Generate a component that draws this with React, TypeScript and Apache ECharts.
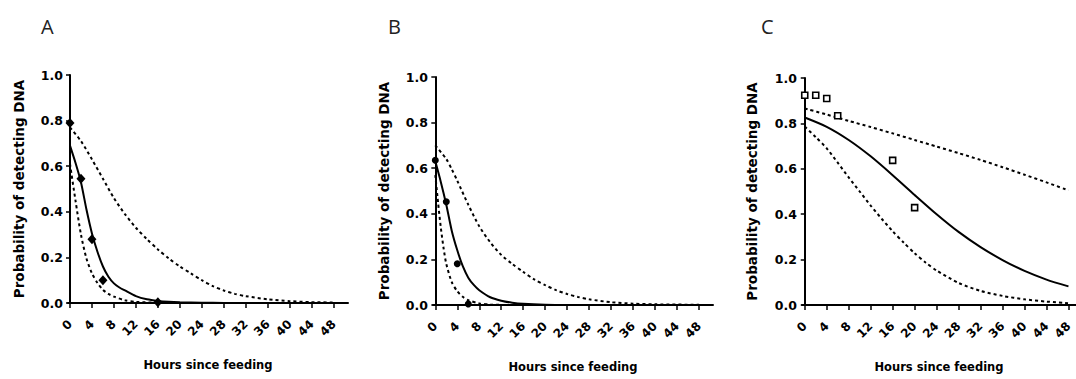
import React, { useEffect, useRef } from "react";
import * as echarts from "echarts";

// ---------- data ----------
const xTicks = [0, 4, 8, 12, 16, 20, 24, 28, 32, 36, 40, 44, 48];
const yTicks = [0, 0.2, 0.4, 0.6, 0.8, 1.0];

// Panel A
const aObsT = [0, 2, 4, 6, 16];
const aObsP = [0.79, 0.545, 0.28, 0.10, 0.003];
const aFitT = [0, 1, 2, 3, 4, 5, 6, 7, 8, 9, 10, 12, 14, 16, 18, 20, 24, 28, 32, 40, 48];
const aFitP = [0.69, 0.615, 0.53, 0.41, 0.305, 0.225, 0.16, 0.115, 0.086, 0.068, 0.055, 0.03, 0.016, 0.009, 0.005, 0.003, 0.001, 0.0005, 0, 0, 0];
const aLowT = [0, 1, 2, 3, 4, 5, 6, 7, 8, 10, 12, 16, 20, 24, 32, 48];
const aLowP = [0.61, 0.45, 0.3, 0.195, 0.13, 0.088, 0.058, 0.04, 0.028, 0.012, 0.005, 0.001, 0, 0, 0, 0];
const aUpT = [0, 2, 4, 6, 8, 10, 12, 14, 16, 18, 20, 22, 24, 26, 28, 30, 32, 36, 40, 44, 48];
const aUpP = [0.77, 0.71, 0.63, 0.545, 0.46, 0.39, 0.33, 0.28, 0.235, 0.195, 0.16, 0.13, 0.1, 0.074, 0.055, 0.04, 0.03, 0.016, 0.008, 0.004, 0.002];

// Panel B
const bObsT = [0, 2, 4, 6];
const bObsP = [0.635, 0.453, 0.181, 0.004];
const bFitT = [0, 1, 2, 3, 4, 5, 6, 7, 8, 10, 12, 14, 16, 20, 24, 32, 48];
const bFitP = [0.63, 0.54, 0.44, 0.325, 0.24, 0.17, 0.12, 0.088, 0.065, 0.034, 0.019, 0.01, 0.005, 0.001, 0, 0, 0];
const bLowT = [0, 0.5, 1, 1.5, 2, 3, 4, 5, 6, 8, 10, 14, 20, 48];
const bLowP = [0.57, 0.45, 0.34, 0.25, 0.18, 0.1, 0.06, 0.036, 0.021, 0.007, 0.002, 0, 0, 0];
const bUpT = [0, 2, 3, 4, 6, 8, 10, 12, 14, 16, 18, 20, 22, 24, 26, 28, 32, 36, 40, 48];
const bUpP = [0.7, 0.64, 0.595, 0.545, 0.44, 0.345, 0.275, 0.22, 0.18, 0.145, 0.112, 0.087, 0.065, 0.048, 0.035, 0.025, 0.012, 0.006, 0.003, 0.001];

// Panel C
const cObsT = [0, 2, 4, 6, 16, 20];
const cObsP = [0.924, 0.924, 0.91, 0.834, 0.637, 0.429];
const cFitT = [0, 4, 8, 12, 16, 20, 24, 28, 32, 36, 40, 44, 48];
const cFitP = [0.826, 0.785, 0.727, 0.655, 0.572, 0.485, 0.4, 0.322, 0.255, 0.198, 0.15, 0.112, 0.082];
const cLowT = [0, 2, 4, 6, 8, 10, 12, 14, 16, 18, 20, 22, 24, 28, 32, 36, 40, 44, 48];
const cLowP = [0.786, 0.74, 0.69, 0.627, 0.562, 0.5, 0.438, 0.38, 0.325, 0.275, 0.228, 0.187, 0.152, 0.097, 0.062, 0.04, 0.025, 0.015, 0.008];
const cUpT = [0, 4, 8, 12, 16, 20, 24, 28, 32, 36, 40, 44, 48];
const cUpP = [0.866, 0.839, 0.811, 0.784, 0.756, 0.727, 0.698, 0.669, 0.639, 0.607, 0.574, 0.54, 0.505];

const panelLetters = ["A", "B", "C"];
const yName = "Probability of detecting DNA";
const xName = "Hours since feeding";

const zip = (t: number[], p: number[]) => t.map((v, i) => [v, p[i]]);

const FONT = "DejaVu Sans";

export default function App() {
  const ref = useRef<HTMLDivElement>(null);
  useEffect(() => {
    if (!ref.current) return;
    const chart = echarts.init(ref.current, undefined, { renderer: "svg" });

    const grids = [
      { left: 68, top: 75, width: 280, height: 228 },
      { left: 433, top: 77, width: 280, height: 228 },
      { left: 802, top: 78, width: 274, height: 227 },
    ];
    const xRanges = [
      [-0.36, 50.6],
      [-0.42, 50.54],
      [-0.5, 49.37],
    ];
    const nameGaps = [42, 42, 43];
    const titleLefts = [36, 383, 756];

    const xAxes = grids.map((_, i) => ({
      type: "value",
      gridIndex: i,
      min: xRanges[i][0],
      max: xRanges[i][1],
      name: xName,
      nameLocation: "middle",
      nameGap: 56,
      nameTextStyle: { fontFamily: FONT, fontWeight: "bold", fontSize: 11.5, color: "#000" },
      axisLine: { show: true, onZero: false, lineStyle: { color: "#000", width: 2 } },
      axisTick: { show: true, length: 5, customValues: xTicks, lineStyle: { color: "#000", width: 1.5 } },
      axisLabel: {
        customValues: xTicks,
        rotate: 45,
        margin: 19,
        fontFamily: FONT,
        fontWeight: "bold",
        fontSize: 12,
        color: "#000",
      },
      splitLine: { show: false },
    }));

    const yAxes = grids.map((_, i) => ({
      type: "value",
      gridIndex: i,
      min: 0,
      max: 1,
      interval: 0.2,
      name: yName,
      nameLocation: "middle",
      nameRotate: 90,
      nameGap: nameGaps[i],
      nameTextStyle: { fontFamily: FONT, fontWeight: "bold", fontSize: 13.5, color: "#000" },
      axisLine: { show: true, lineStyle: { color: "#000", width: 2 } },
      axisTick: { show: true, length: 4, lineStyle: { color: "#000", width: 1.5 } },
      axisLabel: {
        margin: 5,
        fontFamily: FONT,
        fontWeight: "bold",
        fontSize: 12.5,
        color: "#000",
        formatter: (v: number) => v.toFixed(1),
        customValues: yTicks,
      },
      splitLine: { show: false },
    }));

    const line = (i: number, data: number[][], dashed: boolean) => ({
      type: "line",
      xAxisIndex: i,
      yAxisIndex: i,
      data,
      symbol: "none",
      smooth: 0.25,
      lineStyle: { color: "#000", width: 2, type: dashed ? [3, 3] : "solid" },
      silent: true,
      z: 2,
    });

    const series: any[] = [
      line(0, zip(aFitT, aFitP), false),
      line(0, zip(aLowT, aLowP), true),
      line(0, zip(aUpT, aUpP), true),
      {
        type: "scatter",
        xAxisIndex: 0,
        yAxisIndex: 0,
        data: zip(aObsT, aObsP),
        symbol: "diamond",
        symbolSize: [9, 10],
        itemStyle: { color: "#000", opacity: 1 },
        clip: false,
        z: 5,
      },
      line(1, zip(bFitT, bFitP), false),
      line(1, zip(bLowT, bLowP), true),
      line(1, zip(bUpT, bUpP), true),
      {
        type: "scatter",
        xAxisIndex: 1,
        yAxisIndex: 1,
        data: zip(bObsT, bObsP),
        symbol: "circle",
        symbolSize: 7,
        itemStyle: { color: "#000", opacity: 1 },
        clip: false,
        z: 5,
      },
      line(2, zip(cFitT, cFitP), false),
      line(2, zip(cLowT, cLowP), true),
      line(2, zip(cUpT, cUpP), true),
      {
        type: "scatter",
        xAxisIndex: 2,
        yAxisIndex: 2,
        data: zip(cObsT, cObsP),
        symbol: "rect",
        symbolSize: 6,
        itemStyle: { color: "#fff", borderColor: "#000", borderWidth: 1.6, opacity: 1 },
        clip: false,
        z: 5,
      },
    ];

    chart.setOption({
      animation: false,
      backgroundColor: "#fff",
      title: panelLetters.map((t, i) => ({
        text: t,
        left: titleLefts[i],
        top: 11,
        textStyle: { fontFamily: "Open Sans", fontWeight: "normal", fontSize: 20, color: "#222" },
      })),
      grid: grids,
      xAxis: xAxes,
      yAxis: yAxes,
      series,
    });
    return () => chart.dispose();
  }, []);

  return (
    <div
      ref={ref}
      style={{ position: "fixed", left: 0, top: 0, width: 1076, height: 379, background: "#fff" }}
    />
  );
}
